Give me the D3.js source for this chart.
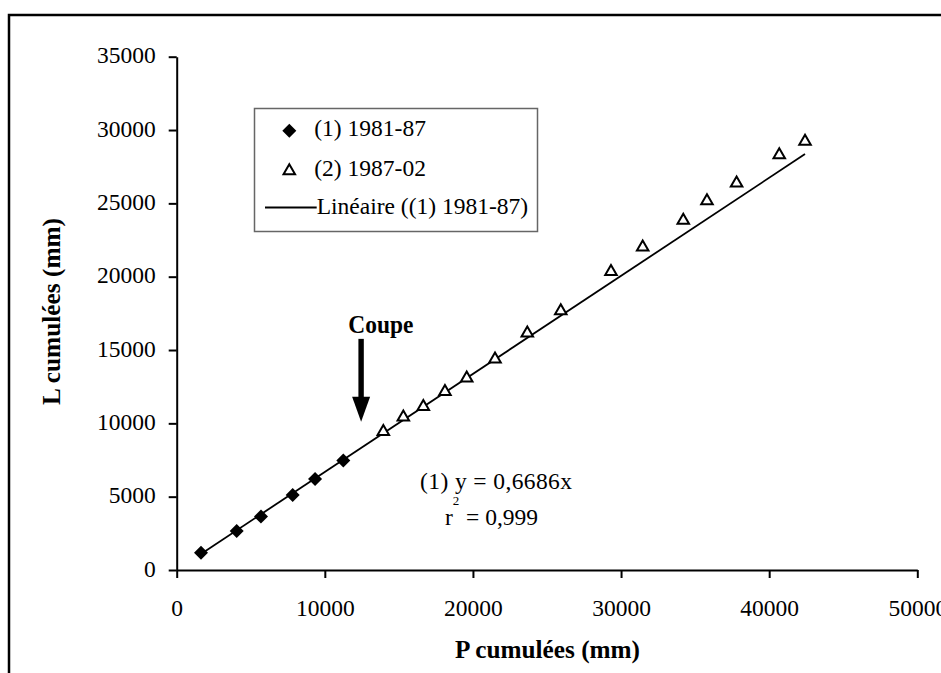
<!DOCTYPE html>
<html><head><meta charset="utf-8">
<script src="https://cdn.jsdelivr.net/npm/d3@7"></script>
<style>
html,body{margin:0;padding:0;background:#fff;overflow:hidden}
svg text{font-family:"Liberation Serif","Times New Roman",serif;fill:#000}
</style></head>
<body><svg id="c" width="941" height="673"></svg>
<script>
// Series (1) 1981-87 : cumulative P (mm) and cumulative L (mm)
const series1X = [1640, 4050, 5690, 7830, 9340, 11250];
const series1Y = [1180, 2660, 3640, 5120, 6210, 7460];
// Series (2) 1987-02
const series2X = [13950, 15300, 16650, 18110, 19580, 21490, 23670, 25930, 29320, 31460, 34200, 35800, 37800, 40680, 42420];
const series2Y = [9440, 10420, 11140, 12160, 13080, 14370, 16150, 17670, 20350, 22010, 23830, 25170, 26380, 28310, 29220];
// Linear trend of series (1): y = 0.6686 x, drawn over this x range
const trendSlope = 0.6686;
const trendRange = [1640, 42420];
// Ticks
const xTicks = [0, 10000, 20000, 30000, 40000, 50000];
const yTicks = [0, 5000, 10000, 15000, 20000, 25000, 30000, 35000];
const legendLabels = ["(1) 1981-87", "(2) 1987-02", "Linéaire ((1) 1981-87)"];
// "Coupe" arrow annotation (data units)
const coupeX = 12450, coupeTop = 15760, coupeTip = 10110;

const FONT = '"Liberation Serif","Times New Roman",serif';
const svg = d3.select("#c");
const x = d3.scaleLinear().domain([0, 50000]).range([176.7, 917.3]);
const y = d3.scaleLinear().domain([0, 35000]).range([570, 56.7]);

// outer frame (partially cropped)
svg.append("rect").attr("x", 9).attr("y", 15).attr("width", 1000).attr("height", 1000)
  .attr("fill", "none").attr("stroke", "#000").attr("stroke-width", 2.5);

// axes
const fs = 23.5;
const gx = svg.append("g").attr("transform", "translate(0,570)")
  .call(d3.axisBottom(x).tickValues(xTicks).tickFormat(d => String(d)).tickSize(8).tickSizeOuter(0).tickPadding(0));
const gy = svg.append("g").attr("transform", "translate(176.7,0)")
  .call(d3.axisLeft(y).tickValues(yTicks).tickFormat(d => String(d)).tickSize(8).tickSizeOuter(0).tickPadding(13));
[gx, gy].forEach(g => {
  g.attr("font-family", FONT).attr("font-size", fs);
  g.select(".domain").attr("stroke", "#000").attr("stroke-width", 2);
  g.selectAll(".tick line").attr("stroke", "#000").attr("stroke-width", 2);
  g.selectAll(".tick text").attr("font-size", fs).style("font-family", FONT).attr("fill", "#000");
});
gx.selectAll(".tick text").attr("dy", null).attr("y", 45.7);
gy.selectAll(".tick text").attr("dy", null).attr("y", 6);

// trend line
svg.append("line")
  .attr("x1", x(trendRange[0])).attr("y1", y(trendSlope * trendRange[0]))
  .attr("x2", x(trendRange[1])).attr("y2", y(trendSlope * trendRange[1]))
  .attr("stroke", "#000").attr("stroke-width", 1.8);

// series 1: filled diamonds
const diamond = d3.symbol().type(d3.symbolDiamond2).size(125);
svg.append("g").selectAll("path").data(series1X.map((v, i) => [v, series1Y[i]])).join("path")
  .attr("d", diamond).attr("transform", d => `translate(${x(d[0])},${y(d[1])})`).attr("fill", "#000");

// series 2: open triangles
const tri = d3.symbol().type(d3.symbolTriangle2).size(95);
svg.append("g").selectAll("path").data(series2X.map((v, i) => [v, series2Y[i]])).join("path")
  .attr("d", tri).attr("transform", d => `translate(${x(d[0])},${y(d[1])})`)
  .attr("fill", "#fff").attr("stroke", "#000").attr("stroke-width", 2);

// legend
const lg = svg.append("g");
lg.append("rect").attr("x", 254.5).attr("y", 108.5).attr("width", 283).attr("height", 123)
  .attr("fill", "#fff").attr("stroke", "#666").attr("stroke-width", 1.5);
lg.append("path").attr("d", diamond).attr("transform", "translate(289.3,130.7)").attr("fill", "#000");
lg.append("path").attr("d", tri).attr("transform", "translate(289.3,171)").attr("fill", "#fff").attr("stroke", "#000").attr("stroke-width", 2);
lg.append("line").attr("x1", 265).attr("x2", 316.7).attr("y1", 207.5).attr("y2", 207.5).attr("stroke", "#000").attr("stroke-width", 1.8);
const lgY = [135.7, 175.5, 213.5], lgX = [314.3, 314.3, 316.7];
legendLabels.forEach((t, i) => lg.append("text").attr("x", lgX[i]).attr("y", lgY[i]).attr("font-size", fs).style("font-family", FONT).text(t));

// equation
svg.append("text").attr("x", 420).attr("y", 489).attr("font-size", fs).style("font-family", FONT)
  .attr("textLength", 152).attr("lengthAdjust", "spacing").text("(1) y = 0,6686x");
const r2 = svg.append("text").attr("x", 445).attr("y", 525).attr("font-size", fs).style("font-family", FONT);
r2.append("tspan").text("r");
r2.append("tspan").attr("font-size", 13).attr("dy", -20).text("2");
r2.append("tspan").attr("dy", 20).attr("x", 466).text("= 0,999");

// Coupe arrow
svg.append("text").attr("x", 348.3).attr("y", 333).attr("font-size", 26).attr("font-weight", "bold").style("font-family", FONT)
  .attr("textLength", 65).attr("lengthAdjust", "spacingAndGlyphs").text("Coupe");
const ax = x(coupeX), aTop = y(coupeTop), aTip = y(coupeTip);
svg.append("rect").attr("x", ax - 2.7).attr("y", aTop).attr("width", 5.4).attr("height", aTip - aTop - 23).attr("fill", "#000");
svg.append("path").attr("d", `M${ax - 9},${aTip - 25}L${ax + 9},${aTip - 25}L${ax},${aTip}Z`).attr("fill", "#000");

// axis titles
svg.append("text").attr("x", 547.5).attr("y", 658).attr("text-anchor", "middle").attr("font-size", 26).attr("font-weight", "bold").style("font-family", FONT)
  .attr("textLength", 185).attr("lengthAdjust", "spacingAndGlyphs").text("P cumulées (mm)");
svg.append("text").attr("transform", "translate(60,311.5) rotate(-90)").attr("text-anchor", "middle").attr("font-size", 26).attr("font-weight", "bold").style("font-family", FONT)
  .attr("textLength", 187).attr("lengthAdjust", "spacingAndGlyphs").text("L cumulées (mm)");
</script></body></html>
